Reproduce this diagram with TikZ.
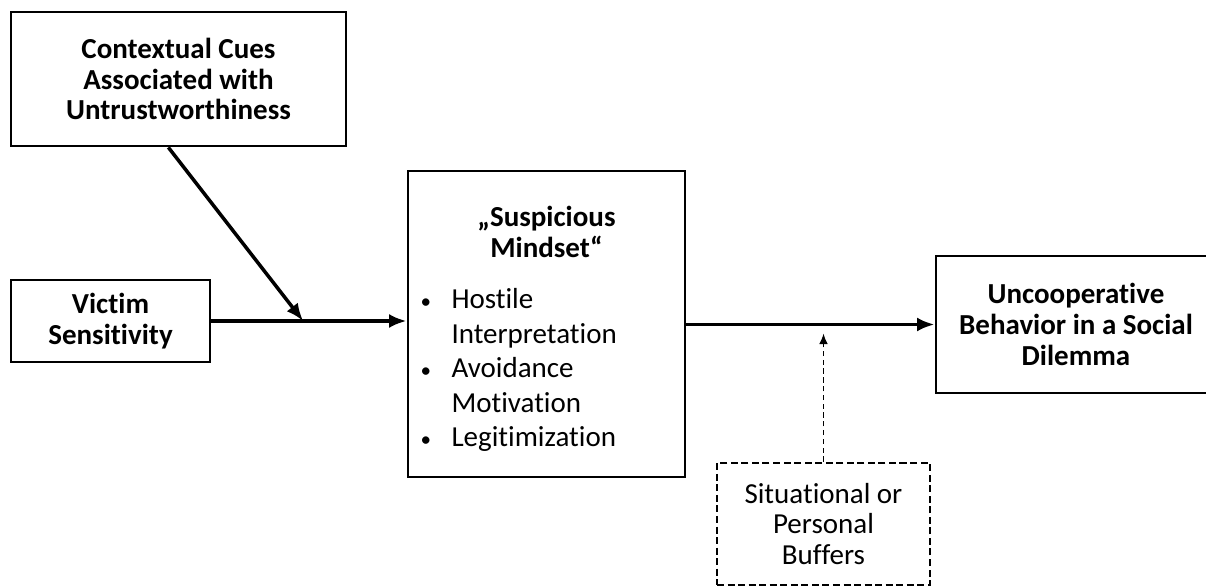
\documentclass[tikz,border=0pt]{standalone}
\usepackage{fontspec}
\setmainfont{Carlito}[Ligatures=NoCommon]
\usepackage{array}
\usetikzlibrary{arrows.meta, calc, positioning}
\tikzset{PathModel/.style={
    base/.style = {draw, line width=1.6pt, align=center, inner sep=0pt,
                   font=\fontsize{16.5}{17.6}\selectfont},
    construct/.style = {base, font=\fontsize{16.5}{17.6}\selectfont\bfseries},
    buffer/.style = {base, dash pattern=on 4pt off 2pt},
    link/.style = {line width=2pt, -{Latex[length=10pt, width=8pt]}},
    dashlink/.style = {line width=1pt, dash pattern=on 3pt off 2pt, -{Latex[length=6pt, width=5pt]}}
}}

\begin{document}
\begin{tikzpicture}[PathModel]
        \useasboundingbox (0,0) rectangle (24.12,-11.76);
        \node (cues) [construct, minimum width=6.7cm, minimum height=2.68cm] at (3.57,-1.58) {
            Contextual Cues\\ Associated with\\ Untrustworthiness
        };
        \node (victim) [construct, minimum width=3.98cm, minimum height=1.64cm] at (2.21,-6.42) {
            Victim\\ Sensitivity
        };
        \node (mind) [draw, line width=1.6pt, inner sep=0.25cm, text width=5.04cm,
                      minimum height=6.12cm, font=\fontsize{16.5}{17.6}\selectfont] at (10.93,-6.48) {
            {\centering\bfseries „Suspicious\\ Mindset“\par}
            \vspace{14.5pt}
            {\fontsize{16.5}{19.6}\selectfont
            \begin{tabular}{@{}p{0.62cm}@{}l@{}}
                {\fontsize{12}{12}\selectfont\textbullet} & Hostile\\
                            & Interpretation\\
                {\fontsize{12}{12}\selectfont\textbullet} & Avoidance\\
                            & Motivation\\
                {\fontsize{12}{12}\selectfont\textbullet} & Legitimization
            \end{tabular}\par}
            \kern-0.3cm
        };
        \node (uncoop) [construct, minimum width=5.6cm, minimum height=2.74cm] at (21.52,-6.49) {
            Uncooperative\\ Behavior in a Social\\ Dilemma
        };
        \node (buffers) [buffer, minimum width=4.26cm, minimum height=2.44cm] at (16.47,-10.48) {
            Situational or\\ Personal\\ Buffers
        };

        \coordinate (meet) at ($(victim.east)!0.47!(victim.east -| mind.west)$);
        \coordinate (modpt) at ($(buffers.north |- uncoop.west)+(0,-0.18)$);

        \draw [link] (victim.east) -- (victim.east -| mind.west);
        \draw [link] ($(cues.south west)!0.47!(cues.south east)$) -- (meet);
        \draw [link] (uncoop.west -| mind.east) -- (uncoop.west);
        \draw [dashlink] (buffers.north) -- (modpt);
    \end{tikzpicture}
\end{document}
